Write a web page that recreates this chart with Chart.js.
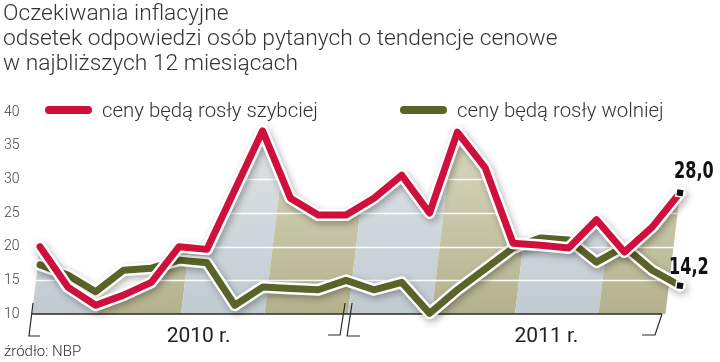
<!DOCTYPE html>
<html lang="pl">
<head>
<meta charset="utf-8">
<script src="https://cdn.jsdelivr.net/npm/chart.js@4.4.1/dist/chart.umd.min.js"></script>
<style>
  body { margin: 0; background: #fff; }
  #wrap { position: relative; width: 720px; height: 362px; overflow: hidden; font-family: Roboto, "Open Sans", sans-serif; color: #333; }
  #chart { position: absolute; left: 0; top: 0; }
  .title { position: absolute; left: 3px; font-size: 22.8px; line-height: 22px; font-weight: 300; white-space: nowrap; }
  .legend-item { position: absolute; top: 100px; font-size: 20.4px; line-height: 20px; font-weight: 300; white-space: nowrap; }
  .swatch { position: absolute; top: 106px; width: 47px; height: 8px; border-radius: 4px; }
  #source { position: absolute; left: 4px; top: 344px; font-size: 15px; line-height: 15px; font-weight: 300; }
</style>
</head>
<body>
<div id="wrap">
  <canvas id="chart" width="720" height="362"></canvas>
  <div class="title" style="top:2px">Oczekiwania inflacyjne</div>
  <div class="title" style="top:27px">odsetek odpowiedzi osób pytanych o tendencje cenowe</div>
  <div class="title" style="top:52px">w najbliższych 12 miesiącach</div>
  <div id="legend"></div>
  <div id="source">źródło: NBP</div>
</div>
<script>
// miesiące: styczeń 2010 - grudzień 2011
const months = ['I 2010', 'II 2010', 'III 2010', 'IV 2010', 'V 2010', 'VI 2010',
                'VII 2010', 'VIII 2010', 'IX 2010', 'X 2010', 'XI 2010', 'XII 2010',
                'I 2011', 'II 2011', 'III 2011', 'IV 2011', 'V 2011', 'VI 2011',
                'VII 2011', 'VIII 2011', 'IX 2011', 'X 2011', 'XI 2011', 'XII 2011'];

// odsetek odpowiedzi (%)
const faster = [20.0, 14.0, 11.3, 12.8, 14.7, 20.0, 19.6, 28.4, 37.2, 27.2, 24.7, 24.7,
                27.2, 30.6, 25.0, 37.0, 31.7, 20.5, 20.2, 19.8, 24.0, 19.2, 22.9, 28.0];
const slower = [17.3, 15.8, 13.3, 16.5, 16.8, 18.0, 17.6, 11.3, 14.0, 13.8, 13.6, 15.0,
                13.6, 14.7, 10.1, 13.6, 16.7, 19.8, 21.3, 21.0, 17.7, 20.0, 16.5, 14.2];

const seriesNames = ['ceny będą rosły szybciej', 'ceny będą rosły wolniej'];
const yTicks = [10, 15, 20, 25, 30, 35, 40];
const years = ['2010 r.', '2011 r.'];

const RED = '#d0103c';
const OLIVE = '#5b6428';

// legenda
const legendPos = [45, 400];
const legendEl = document.getElementById('legend');
[RED, OLIVE].forEach((col, i) => {
    const sw = document.createElement('div');
    sw.className = 'swatch';
    sw.style.left = legendPos[i] + 'px';
    sw.style.background = col;
    legendEl.appendChild(sw);
    const tx = document.createElement('div');
    tx.className = 'legend-item';
    tx.style.left = (legendPos[i] + 57) + 'px';
    tx.textContent = seriesNames[i];
    legendEl.appendChild(tx);
});

// tło: pasy pod czerwoną linią, siatka, oś i klamry lat
const backdrop = {
    id: 'backdrop',
    beforeDatasetsDraw(chart) {
        const ctx = chart.ctx;
        const area = chart.chartArea;
        const x = chart.scales.x;
        const y = chart.scales.y;
        const base = y.getPixelForValue(10);
        const slant = 0.12;
        const pts = chart.getDatasetMeta(3).data;
        const first = pts[0], last = pts[pts.length - 1];

        ctx.save();
        ctx.beginPath();
        ctx.moveTo(first.x - slant * (base - first.y), base);
        pts.forEach(p => ctx.lineTo(p.x, p.y));
        ctx.lineTo(last.x - slant * (base - last.y), base);
        ctx.closePath();
        ctx.clip();

        const bounds = [-3, 2, 5, 8, 11, 14, 17, 20, 26];
        const top = area.top;
        for (let i = 0; i < bounds.length - 1; i++) {
            const x0 = x.getPixelForValue(bounds[i]) + 2;
            const x1 = x.getPixelForValue(bounds[i + 1]) + 2;
            const g = ctx.createLinearGradient(0, top, 0, base);
            if (i % 2 === 0) {
                g.addColorStop(0, '#e3e8eb');
                g.addColorStop(1, '#c0cbd1');
            } else {
                g.addColorStop(0, '#deddc8');
                g.addColorStop(1, '#b4b28c');
            }
            ctx.fillStyle = g;
            ctx.beginPath();
            ctx.moveTo(x0, base);
            ctx.lineTo(x0 + slant * (base - top), top);
            ctx.lineTo(x1 + slant * (base - top), top);
            ctx.lineTo(x1, base);
            ctx.closePath();
            ctx.fill();
        }
        ctx.strokeStyle = 'rgba(255,255,255,0.95)';
        ctx.lineWidth = 1.5;
        yTicks.slice(1).forEach(v => {
            const yy = Math.round(y.getPixelForValue(v)) + 0.5;
            ctx.beginPath();
            ctx.moveTo(0, yy);
            ctx.lineTo(chart.width, yy);
            ctx.stroke();
        });
        ctx.restore();

        // oś pozioma i klamry
        const brk = x.getPixelForValue(11);
        const right = x.getPixelForValue(23) - 18;
        const left = area.left - 8;
        ctx.save();
        ctx.strokeStyle = '#2a2a2a';
        ctx.lineWidth = 1.5;
        ctx.beginPath();
        ctx.moveTo(left, base);
        ctx.lineTo(right, base);
        ctx.stroke();
        ctx.lineWidth = 1.2;
        ctx.beginPath();
        // 2010
        ctx.moveTo(left + 1, base - 11);
        ctx.lineTo(left - 3, base + 22);
        ctx.lineTo(left + 8, base + 22);
        ctx.moveTo(brk - 18, base + 21);
        ctx.lineTo(brk - 6, base + 21);
        ctx.lineTo(brk - 1, base - 11);
        // 2011
        ctx.moveTo(brk + 6, base - 11);
        ctx.lineTo(brk + 1, base + 22);
        ctx.lineTo(brk + 14, base + 22);
        ctx.moveTo(right - 20, base + 21);
        ctx.lineTo(right - 7, base + 21);
        ctx.lineTo(right, base);
        ctx.stroke();

        ctx.fillStyle = '#222';
        ctx.font = '400 21px Roboto, sans-serif';
        ctx.textAlign = 'center';
        ctx.textBaseline = 'alphabetic';
        ctx.fillText(years[0], x.getPixelForValue(5.7), base + 28);
        ctx.fillText(years[1], x.getPixelForValue(18.2), base + 28);
        ctx.restore();
    },
    beforeDatasetDraw(chart, args) {
        if (chart.data.datasets[args.index].outline) {
            const ctx = chart.ctx;
            ctx.save();
            ctx.shadowColor = 'rgba(0,0,0,0.3)';
            ctx.shadowBlur = 7;
            ctx.shadowOffsetX = 2;
            ctx.shadowOffsetY = 3;
        }
    },
    afterDatasetDraw(chart, args) {
        if (chart.data.datasets[args.index].outline) {
            chart.ctx.restore();
        }
    },
    afterDatasetsDraw(chart) {
        const ctx = chart.ctx;
        // wartości końcowe, pismo zwężone
        [[0, -6, -15], [2, -11, -12]].forEach(([i, dx, dy]) => {
            const ds = chart.data.datasets[i];
            const pts = chart.getDatasetMeta(i).data;
            const p = pts[pts.length - 1];
            const v = ds.data[ds.data.length - 1];
            ctx.save();
            ctx.translate(p.x + dx, p.y + dy);
            ctx.scale(0.7, 1);
            ctx.fillStyle = '#111';
            ctx.font = 'bold 23px "DejaVu Sans", sans-serif';
            ctx.textAlign = 'left';
            ctx.textBaseline = 'alphabetic';
            ctx.fillText(v.toFixed(1).replace('.', ','), 0, 0);
            ctx.restore();
        });
    }
};

const lastIdx = months.length - 1;
const markerRadius = c => c.dataIndex === lastIdx ? 5.5 : 0;

new Chart(document.getElementById('chart'), {
    type: 'line',
    data: {
        labels: months,
        datasets: [
            {
                label: seriesNames[0],
                data: faster,
                borderColor: RED,
                borderWidth: 7,
                pointRadius: markerRadius,
                pointStyle: 'rect',
                pointRotation: 8,
                pointBackgroundColor: '#111',
                pointBorderColor: '#fff',
                pointBorderWidth: 1.5,
                order: 0
            },
            {
                data: slower,
                borderColor: '#fff',
                borderWidth: 12,
                pointRadius: 0,
                outline: true,
                order: 3
            },
            {
                label: seriesNames[1],
                data: slower,
                borderColor: OLIVE,
                borderWidth: 7,
                pointRadius: markerRadius,
                pointStyle: 'rect',
                pointRotation: 8,
                pointBackgroundColor: '#111',
                pointBorderColor: '#fff',
                pointBorderWidth: 1.5,
                order: 2
            },
            {
                data: faster,
                borderColor: '#fff',
                borderWidth: 12,
                pointRadius: 0,
                outline: true,
                order: 1
            }
        ]
    },
    options: {
        responsive: false,
        animation: false,
        devicePixelRatio: 1,
        layout: { padding: { top: 112, bottom: 48, left: 4, right: 40 } },
        elements: {
            line: { tension: 0, borderJoinStyle: 'round', borderCapStyle: 'round', fill: false },
            point: { hoverRadius: 0 }
        },
        datasets: { line: { clip: false } },
        scales: {
            x: { display: false, offset: false },
            y: {
                min: 10,
                max: 40,
                afterFit: s => { s.width = 36; },
                afterBuildTicks: s => { s.ticks = yTicks.map(v => ({ value: v })); },
                grid: { display: false },
                border: { display: false },
                ticks: {
                    crossAlign: 'far',
                    color: '#444',
                    font: { family: 'Roboto', size: 14, weight: '300' }
                }
            }
        },
        plugins: {
            legend: { display: false },
            tooltip: { enabled: false }
        }
    },
    plugins: [backdrop]
});
</script>
</body>
</html>
